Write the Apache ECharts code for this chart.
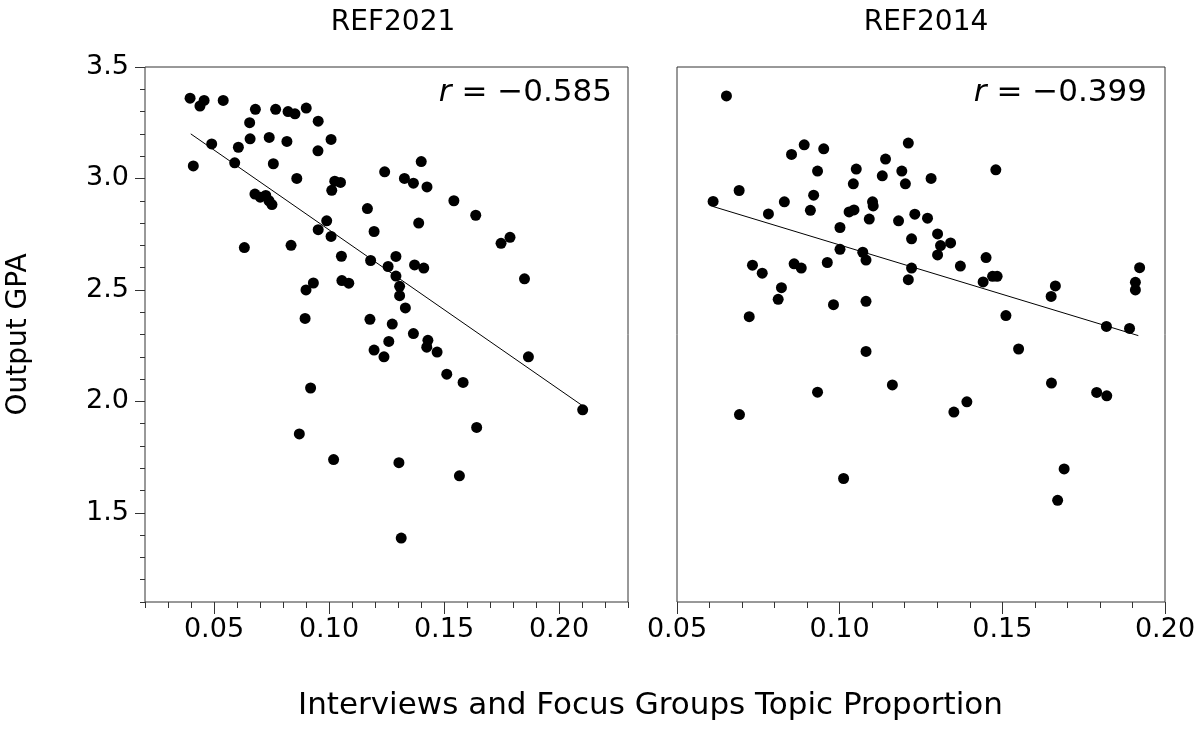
<!DOCTYPE html>
<html style="height: 100%">
<head>
<meta charset="utf-8">
<script src="https://cdn.jsdelivr.net/npm/echarts@6/dist/echarts.min.js"></script>
</head>
<body style="height: 100%; margin: 0; background: #fff">
<div id="container" style="width: 1200px; height: 732px"></div>
<script type="text/javascript">
// REF2021 panel: [topic proportion, output GPA]
const ref2021 = [
  [0.0396,3.36],[0.0439,3.325],[0.0457,3.35],[0.054,3.35],[0.068,3.31],[0.0768,3.31],
  [0.0822,3.30],[0.0852,3.29],[0.0901,3.316],[0.0655,3.25],[0.0953,3.257],[0.049,3.155],
  [0.0606,3.14],[0.0657,3.178],[0.074,3.184],[0.0817,3.166],[0.1009,3.175],[0.0952,3.124],
  [0.041,3.056],[0.059,3.07],[0.0758,3.066],[0.086,3.0],[0.1242,3.03],[0.1025,2.988],
  [0.105,2.982],[0.1012,2.947],[0.0678,2.93],[0.0701,2.916],[0.0725,2.924],[0.0739,2.90],
  [0.0752,2.883],[0.1167,2.865],[0.099,2.81],[0.0953,2.77],[0.1009,2.74],[0.1196,2.762],
  [0.0632,2.69],[0.0835,2.70],[0.1054,2.651],[0.1181,2.632],[0.1257,2.605],[0.0932,2.531],
  [0.09,2.50],[0.1056,2.542],[0.1086,2.53],[0.0896,2.372],[0.1178,2.368],[0.1275,2.347],
  [0.1401,3.076],[0.1328,3.0],[0.1367,2.979],[0.1426,2.962],[0.1543,2.90],[0.1638,2.835],
  [0.139,2.80],[0.1748,2.709],[0.1787,2.736],[0.1291,2.65],[0.1372,2.612],[0.1412,2.598],
  [0.1291,2.562],[0.185,2.55],[0.1307,2.516],[0.1307,2.474],[0.1332,2.419],[0.1367,2.304],
  [0.126,2.269],[0.143,2.274],[0.1196,2.23],[0.1239,2.20],[0.1425,2.243],[0.147,2.221],
  [0.1867,2.20],[0.1512,2.122],[0.1583,2.085],[0.2103,1.962],[0.092,2.06],[0.1642,1.883],
  [0.0871,1.854],[0.102,1.739],[0.1304,1.725],[0.1567,1.666],[0.1314,1.387]
];
// REF2014 panel
const ref2014 = [
  [0.0652,3.37],[0.0852,3.108],[0.0891,3.151],[0.0951,3.133],[0.1211,3.159],[0.1141,3.087],
  [0.0932,3.033],[0.1051,3.042],[0.1131,3.012],[0.1191,3.033],[0.1042,2.976],[0.1202,2.976],
  [0.1281,3.0],[0.0691,2.946],[0.092,2.925],[0.0611,2.897],[0.083,2.895],[0.0781,2.841],
  [0.091,2.857],[0.1029,2.85],[0.1044,2.859],[0.1101,2.895],[0.1103,2.877],[0.1091,2.818],
  [0.1181,2.81],[0.1231,2.84],[0.127,2.822],[0.1001,2.78],[0.1221,2.729],[0.1001,2.682],
  [0.1071,2.669],[0.1081,2.634],[0.1221,2.598],[0.1211,2.546],[0.0732,2.611],[0.0762,2.575],
  [0.086,2.617],[0.0882,2.598],[0.0962,2.623],[0.0821,2.51],[0.0811,2.458],[0.0981,2.434],
  [0.1081,2.449],[0.0722,2.38],[0.148,3.039],[0.1301,2.751],[0.131,2.699],[0.1301,2.657],
  [0.1341,2.711],[0.1371,2.607],[0.145,2.645],[0.1441,2.536],[0.147,2.561],[0.1484,2.561],
  [0.1511,2.385],[0.1663,2.518],[0.165,2.471],[0.1922,2.6],[0.1909,2.534],[0.1909,2.5],
  [0.182,2.336],[0.1891,2.327],[0.1081,2.224],[0.155,2.235],[0.0932,2.041],[0.1162,2.074],
  [0.0692,1.941],[0.1351,1.952],[0.1391,1.998],[0.1651,2.082],[0.179,2.04],[0.1821,2.025],
  [0.1012,1.654],[0.169,1.697],[0.167,1.556]
];
const fit2021 = [[0.0399,3.20],[0.2103,1.98]];
const fit2014 = [[0.0611,2.874],[0.1918,2.295]];
const yMajor = [1.5, 2.0, 2.5, 3.0, 3.5];
const xMajor = [0.05, 0.10, 0.15, 0.20];
const panelTitles = ['REF2021', 'REF2014'];
const rLabels = ['−0.585', '−0.399'];

const font = 'DejaVu Sans';
const axisColor = '#333';
const chart = echarts.init(document.getElementById('container'));

function xAxes(gridIndex, min, max) {
  const base = {
    gridIndex: gridIndex, type: 'value', min: min, max: max, position: 'bottom',
    axisLine: { show: false }, splitLine: { show: false }
  };
  return [
    Object.assign({}, base, {
      interval: 0.01,
      axisTick: { length: 6, lineStyle: { color: axisColor } },
      axisLabel: { show: false }
    }),
    Object.assign({}, base, {
      axisTick: { length: 12, customValues: xMajor, lineStyle: { color: axisColor } },
      axisLabel: {
        customValues: xMajor, margin: 14, fontFamily: font, fontSize: 27, color: '#000',
        formatter: v => v.toFixed(2)
      }
    })
  ];
}

function yAxes(gridIndex, showTicks) {
  const base = {
    gridIndex: gridIndex, type: 'value', min: 1.1, max: 3.5, position: 'left',
    axisLine: { show: false }, splitLine: { show: false }
  };
  return [
    Object.assign({}, base, {
      interval: 0.1,
      axisTick: { show: showTicks, length: 5, lineStyle: { color: axisColor } },
      axisLabel: { show: false }
    }),
    Object.assign({}, base, {
      axisTick: { show: showTicks, length: 10, customValues: yMajor, lineStyle: { color: axisColor } },
      axisLabel: {
        show: showTicks, customValues: yMajor, margin: 16, fontFamily: font, fontSize: 27, color: '#000',
        formatter: v => v.toFixed(1)
      },
      name: showTicks ? 'Output GPA' : '', nameLocation: 'middle', nameGap: 112,
      nameTextStyle: { fontFamily: font, fontSize: 28, color: '#000' }
    })
  ];
}

const option = {
  animation: false,
  title: [
    { text: panelTitles[0], left: 388, top: 4, textAlign: 'center',
      textStyle: { fontFamily: font, fontSize: 28, fontWeight: 'normal', color: '#000' } },
    { text: panelTitles[1], left: 921, top: 4, textAlign: 'center',
      textStyle: { fontFamily: font, fontSize: 28, fontWeight: 'normal', color: '#000' } }
  ],
  grid: [
    { left: 145, right: 572, top: 67, bottom: 130, show: true, borderColor: axisColor, borderWidth: 1 },
    { left: 677, right: 35, top: 67, bottom: 130, show: true, borderColor: axisColor, borderWidth: 1 }
  ],
  xAxis: xAxes(0, 0.02, 0.23).concat(xAxes(1, 0.05, 0.20)),
  yAxis: yAxes(0, true).concat(yAxes(1, false)),
  graphic: [
    { type: 'text', left: 298, top: 690,
      style: { text: 'Interviews and Focus Groups Topic Proportion', fontFamily: font, fontSize: 31, fill: '#000' } },
    { type: 'text', right: 588, top: 77,
      style: { text: '{i|r} = ' + rLabels[0], fontFamily: font, fontSize: 31, fill: '#000',
        rich: { i: { fontStyle: 'italic', fontFamily: font, fontSize: 31 } } } },
    { type: 'text', right: 53, top: 77,
      style: { text: '{i|r} = ' + rLabels[1], fontFamily: font, fontSize: 31, fill: '#000',
        rich: { i: { fontStyle: 'italic', fontFamily: font, fontSize: 31 } } } }
  ],
  series: [
    { type: 'scatter', xAxisIndex: 0, yAxisIndex: 0, data: ref2021, symbolSize: 11,
      itemStyle: { color: '#000', opacity: 1 } },
    { type: 'line', xAxisIndex: 0, yAxisIndex: 0, data: fit2021, showSymbol: false,
      lineStyle: { color: '#000', width: 1 } },
    { type: 'scatter', xAxisIndex: 2, yAxisIndex: 2, data: ref2014, symbolSize: 11,
      itemStyle: { color: '#000', opacity: 1 } },
    { type: 'line', xAxisIndex: 2, yAxisIndex: 2, data: fit2014, showSymbol: false,
      lineStyle: { color: '#000', width: 1 } }
  ]
};
chart.setOption(option);
</script>
</body>
</html>
